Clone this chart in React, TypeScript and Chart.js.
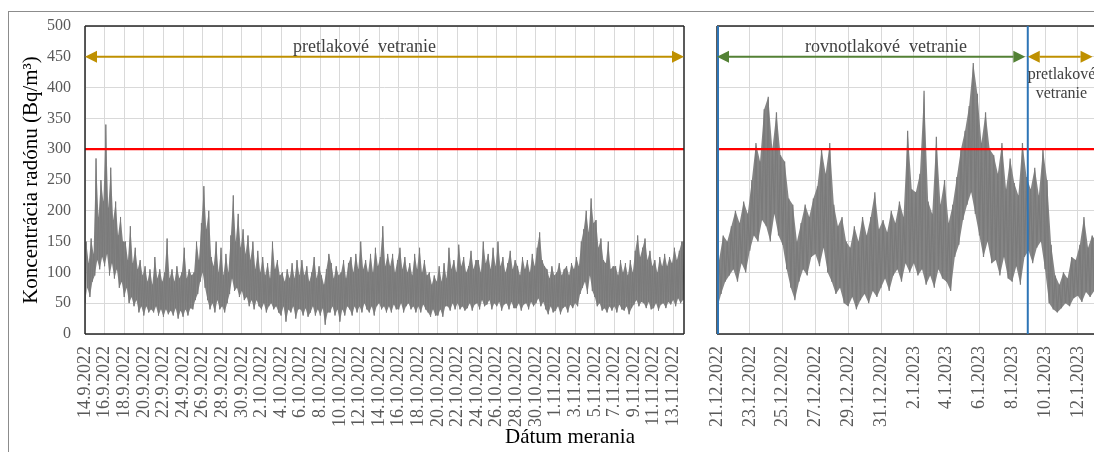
import React, { useEffect, useRef } from "react";
import { Chart, registerables } from "chart.js";

Chart.register(...registerables);

const SERIF = "'Liberation Serif', 'Times New Roman', serif";

// ---- tick labels ----
const leftTickLabels = [
  "14.9.2022", "16.9.2022", "18.9.2022", "20.9.2022", "22.9.2022", "24.9.2022", "26.9.2022",
  "28.9.2022", "30.9.2022", "2.10.2022", "4.10.2022", "6.10.2022", "8.10.2022", "10.10.2022",
  "12.10.2022", "14.10.2022", "16.10.2022", "18.10.2022", "20.10.2022", "22.10.2022",
  "24.10.2022", "26.10.2022", "28.10.2022", "30.10.2022", "1.11.2022", "3.11.2022",
  "5.11.2022", "7.11.2022", "9.11.2022", "11.11.2022", "13.11.2022",
];
const rightTickLabels = [
  "21.12.2022", "23.12.2022", "25.12.2022", "27.12.2022", "29.12.2022", "31.12.2022",
  "2.1.2023", "4.1.2023", "6.1.2023", "8.1.2023", "10.1.2023", "12.1.2023", "14.1.2023",
];
const yTickMax = 500;
const yTickStep = 50;
const limitValue = 300; // referenčná úroveň

// ---- measured radon concentration: low / high envelope every 6 h (4 per day) ----
const samplesPerDay = 4;

// 14.9.2022 – 14.11.2022
const leftLo = [
  50, 75, 60, 85, 95, 120, 105, 125, 110, 130, 95, 115, 90, 105, 75, 85,
  60, 75, 50, 60, 45, 55, 35, 45, 30, 45, 35, 40, 35, 45, 30, 40,
  28, 40, 32, 38, 30, 42, 25, 38, 28, 40, 30, 42, 40, 55, 65, 85,
  100, 75, 55, 40, 50, 35, 55, 40, 45, 35, 50, 65, 90, 70, 75, 60,
  70, 55, 60, 45, 55, 40, 55, 45, 40, 50, 35, 45, 50, 40, 45, 35,
  30, 45, 20, 40, 35, 45, 25, 40, 40, 30, 42, 28, 35, 45, 30, 40,
  30, 42, 15, 35, 35, 45, 30, 40, 20, 40, 30, 45, 40, 30, 45, 35,
  45, 35, 50, 40, 35, 45, 30, 45, 50, 40, 45, 35, 45, 35, 48, 40,
  40, 50, 35, 45, 50, 40, 45, 35, 45, 35, 48, 40, 35, 28, 40, 30,
  30, 40, 28, 45, 45, 38, 50, 40, 50, 40, 45, 38, 42, 50, 38, 48,
  50, 40, 55, 45, 48, 55, 40, 50, 45, 52, 38, 48, 50, 40, 52, 42,
  42, 50, 38, 48, 50, 40, 52, 45, 50, 58, 45, 52, 40, 32, 45, 35,
  38, 45, 32, 42, 45, 35, 48, 42, 50, 45, 65, 75, 85, 65, 95, 70,
  60, 45, 50, 38, 42, 35, 45, 38, 45, 35, 48, 40, 38, 45, 32, 42,
  48, 55, 45, 52, 50, 42, 52, 40, 42, 50, 38, 48, 50, 42, 52, 48,
  55, 45, 58, 50, 55,
];
const leftHi = [
  150, 115, 155, 130, 285, 190, 250, 215, 340, 205, 270, 185, 215, 160, 190, 150,
  150, 120, 175, 115, 140, 105, 120, 95, 110, 85, 105, 80, 125, 90, 105, 85,
  100, 155, 90, 105, 85, 110, 90, 100, 140, 90, 105, 95, 100, 150, 120, 180,
  240, 170, 200, 125, 110, 150, 100, 140, 95, 130, 100, 160, 225, 150, 195, 140,
  170, 130, 160, 120, 150, 105, 135, 100, 125, 95, 115, 90, 150, 105, 120, 95,
  100, 85, 105, 90, 115, 90, 120, 95, 120, 95, 110, 85, 100, 125, 90, 110,
  95, 80, 105, 130, 115, 90, 110, 95, 100, 120, 90, 115, 125, 100, 130, 105,
  150, 105, 120, 100, 130, 100, 140, 110, 125, 175, 110, 130, 110, 130, 100, 120,
  140, 105, 125, 100, 115, 95, 130, 105, 140, 100, 120, 95, 100, 80, 95, 85,
  110, 85, 115, 90, 140, 105, 120, 100, 145, 110, 125, 100, 110, 135, 105, 120,
  120, 100, 150, 115, 130, 105, 140, 110, 150, 110, 125, 100, 115, 135, 105, 120,
  110, 95, 125, 105, 120, 100, 130, 110, 140, 165, 120, 110, 105, 90, 110, 95,
  100, 115, 95, 105, 110, 95, 115, 105, 125, 110, 150, 170, 200, 165, 220, 180,
  185, 140, 155, 120, 115, 150, 105, 110, 110, 95, 120, 100, 115, 95, 120, 100,
  135, 160, 125, 140, 155, 120, 135, 110, 120, 100, 125, 110, 130, 110, 125, 115,
  140, 120, 135, 150, 150,
];

// 21.12.2022 – 15.1.2023
const rightLo = [
  40, 65, 85, 95, 105, 85, 115, 100, 135, 160, 150, 185, 175, 150, 195, 160,
  145, 105, 75, 55, 85, 105, 95, 125, 130, 110, 140, 100, 85, 65, 75, 50,
  45, 60, 40, 55, 65, 50, 70, 60, 75, 90, 70, 95, 105, 85, 115, 100,
  115, 95, 105, 80, 95, 75, 105, 90, 85, 70, 125, 145, 185, 210, 230, 195,
  160, 125, 150, 115, 120, 95, 125, 90, 85, 110, 80, 125, 135, 115, 140, 150,
  105, 50, 40, 35, 42, 50, 45, 58, 62, 52, 68, 60, 70, 58, 65, 55,
  62, 70, 58, 72, 70,
];
const rightHi = [
  120, 160, 150, 175, 200, 180, 215, 195, 250, 310, 280, 365, 385, 300, 360, 290,
  280, 220, 210, 150, 180, 210, 190, 220, 240, 300, 260, 310, 210, 175, 190, 150,
  140, 175, 150, 190, 160, 190, 230, 170, 185, 165, 200, 180, 215, 190, 330, 235,
  230, 260, 395, 215, 195, 320, 210, 250, 180, 210, 255, 300, 330, 370, 440, 390,
  310, 360, 300, 290, 260, 310, 235, 285, 245, 225, 310, 255, 235, 270, 225, 300,
  250, 145, 95, 80, 100, 90, 125, 120, 145, 190, 140, 160, 150, 130, 165, 145,
  145, 155, 130, 150, 150,
];

// ventilation regimes (days from panel start)
const leftRegime = { from: 0, to: 61.1, label: "pretlakové  vetranie" };
const rightRegimeA = { from: 0, to: 18.8, label: "rovnotlakové  vetranie" };
const rightRegimeB = { from: 18.95, to: 22.9, label1: "pretlakové", label2: "vetranie" };
const rightSwitchDays = [0, 18.95];

const leftRangeDays = 61.1;
const rightRangeDays = 25;

function zigzag(lo: number[], hi: number[]) {
  const pts: { x: number; y: number }[] = [];
  for (let i = 0; i < lo.length; i++) {
    const t = i / samplesPerDay;
    pts.push({ x: t, y: lo[i] });
    pts.push({ x: t + 0.5 / samplesPerDay, y: hi[i] });
  }
  return pts;
}
function series(vals: number[], shift: number) {
  return vals.map((v, i) => ({ x: i / samplesPerDay + shift / samplesPerDay, y: v }));
}

const annotPlugin = {
  id: "annot",
  afterDatasetsDraw(chart: any, _args: any, opts: any) {
    const { ctx, chartArea: a, scales } = chart;
    const x = scales.x;
    const y = scales.y;
    ctx.save();
    ctx.strokeStyle = "#262626";
    ctx.lineWidth = 1.5;
    ctx.beginPath();
    if (opts.frameSides.includes("t")) { ctx.moveTo(a.left, a.top); ctx.lineTo(a.right, a.top); }
    if (opts.frameSides.includes("b")) { ctx.moveTo(a.left, a.bottom); ctx.lineTo(a.right, a.bottom); }
    if (opts.frameSides.includes("l")) { ctx.moveTo(a.left, a.top); ctx.lineTo(a.left, a.bottom); }
    if (opts.frameSides.includes("r")) { ctx.moveTo(a.right, a.top); ctx.lineTo(a.right, a.bottom); }
    ctx.stroke();
    (opts.vlines || []).forEach((v: number) => {
      const px = Math.max(a.left + 1, x.getPixelForValue(v));
      ctx.strokeStyle = "#2e75b6";
      ctx.lineWidth = 2;
      ctx.beginPath();
      ctx.moveTo(px, a.top);
      ctx.lineTo(px, a.bottom);
      ctx.stroke();
    });
    (opts.arrows || []).forEach((ar: any) => {
      const x0 = x.getPixelForValue(ar.x0);
      const x1 = x.getPixelForValue(ar.x1);
      const py = y.getPixelForValue(ar.y);
      const L = 12, H = 6;
      ctx.strokeStyle = ar.color;
      ctx.fillStyle = ar.color;
      ctx.lineWidth = 2;
      ctx.beginPath();
      ctx.moveTo(x0 + L, py);
      ctx.lineTo(x1 - L, py);
      ctx.stroke();
      ctx.beginPath();
      ctx.moveTo(x0, py); ctx.lineTo(x0 + L, py - H); ctx.lineTo(x0 + L, py + H); ctx.closePath();
      ctx.fill();
      ctx.beginPath();
      ctx.moveTo(x1, py); ctx.lineTo(x1 - L, py - H); ctx.lineTo(x1 - L, py + H); ctx.closePath();
      ctx.fill();
    });
    (opts.texts || []).forEach((t: any) => {
      ctx.font = t.font;
      ctx.fillStyle = "#404040";
      ctx.textAlign = t.align || "center";
      ctx.textBaseline = "middle";
      ctx.fillText(t.text, x.getPixelForValue(t.x), y.getPixelForValue(t.y));
    });
    ctx.restore();
  },
};

function makeConfig(p: {
  lo: number[]; hi: number[]; labels: string[]; range: number; padRight: number;
  yWidth: number; showY: boolean; lineW: number; annot: any;
}) {
  return {
    type: "line" as const,
    data: {
      datasets: [
        {
          data: [{ x: 0, y: limitValue }, { x: p.range, y: limitValue }],
          borderColor: "#ff0000",
          borderWidth: 2.2,
          pointRadius: 0,
          fill: false,
          order: 0,
        },
        {
          data: zigzag(p.lo, p.hi),
          borderColor: "#7a7a7a",
          borderWidth: p.lineW,
          pointRadius: 0,
          tension: 0,
          fill: false,
          order: 1,
        },
        {
          data: series(p.hi, 0.5),
          borderColor: "rgba(0,0,0,0)",
          borderWidth: 0,
          backgroundColor: "#858585",
          pointRadius: 0,
          tension: 0,
          fill: "+1",
          order: 2,
        },
        {
          data: series(p.lo, 0),
          borderColor: "rgba(0,0,0,0)",
          borderWidth: 0,
          pointRadius: 0,
          tension: 0,
          fill: false,
          order: 3,
        },
      ],
    },
    plugins: [annotPlugin],
    options: {
      responsive: false,
      animation: false,
      devicePixelRatio: 1,
      events: [],
      layout: { padding: { top: 26, right: p.padRight, bottom: 0, left: 0 } },
      plugins: {
        legend: { display: false },
        tooltip: { enabled: false },
        filler: { propagate: false },
        annot: p.annot,
      },
      scales: {
        x: {
          type: "linear",
          min: 0,
          max: p.range,
          afterBuildTicks: (s: any) => {
            s.ticks = p.labels.map((_, i) => ({ value: i * 2 }));
          },
          afterFit: (s: any) => {
            s.height = 118;
            s.paddingRight = 0;
            s.paddingLeft = 0;
          },
          grid: { color: "#d9d9d9", lineWidth: 1, drawTicks: false },
          border: { display: false },
          ticks: {
            autoSkip: false,
            minRotation: 90,
            maxRotation: 90,
            padding: 12,
            color: "#595959",
            font: { family: SERIF, size: 18 },
            callback: (_v: any, i: number) => p.labels[i] ?? "",
          },
        },
        y: {
          min: 0,
          max: yTickMax,
          afterFit: (s: any) => {
            s.width = p.yWidth;
            s.paddingTop = 0;
            s.paddingBottom = 0;
          },
          grid: { color: "#d9d9d9", lineWidth: 1, drawTicks: false },
          border: { display: false },
          ticks: {
            display: p.showY,
            stepSize: yTickStep,
            padding: 14,
            color: "#595959",
            font: { family: SERIF, size: 16 },
          },
          title: {
            display: p.showY,
            text: "Koncentrácia radónu (Bq/m³)",
            color: "#000000",
            font: { family: SERIF, size: 21 },
            padding: { top: 19, bottom: 0 },
          },
        },
      },
    },
  };
}

export default function App() {
  const leftRef = useRef<HTMLCanvasElement>(null);
  const rightRef = useRef<HTMLCanvasElement>(null);

  useEffect(() => {
    const textFont = `18px ${SERIF}`;
    const smallFont = `16px ${SERIF}`;
    const left = new Chart(leftRef.current!, makeConfig({
      lo: leftLo, hi: leftHi, labels: leftTickLabels, range: leftRangeDays, padRight: 16,
      yWidth: 85, showY: true, lineW: 1,
      annot: {
        frameSides: "tblr",
        vlines: [],
        arrows: [{ x0: leftRegime.from, x1: leftRegime.to, y: 450, color: "#bf9000" }],
        texts: [{ x: 28.5, y: 466, text: leftRegime.label, font: textFont }],
      },
    }) as any);
    const right = new Chart(rightRef.current!, makeConfig({
      lo: rightLo, hi: rightHi, labels: rightTickLabels, range: rightRangeDays, padRight: 10,
      yWidth: 27, showY: false, lineW: 1.2,
      annot: {
        frameSides: "tbl",
        vlines: rightSwitchDays,
        arrows: [
          { x0: rightRegimeA.from, x1: rightRegimeA.to, y: 450, color: "#538135" },
          { x0: rightRegimeB.from, x1: rightRegimeB.to, y: 450, color: "#bf9000" },
        ],
        texts: [
          { x: 10.3, y: 466, text: rightRegimeA.label, font: textFont },
          { x: 18.95, y: 420, text: rightRegimeB.label1, font: smallFont, align: "left" },
          { x: 21.0, y: 390, text: rightRegimeB.label2, font: smallFont },
        ],
      },
    }) as any);
    return () => {
      left.destroy();
      right.destroy();
    };
  }, []);

  return (
    <div style={{ position: "fixed", left: 0, top: 0, width: 1094, height: 452, overflow: "hidden", background: "#fff" }}>
      <div style={{ position: "absolute", left: 8, top: 11, width: 1200, height: 600, borderTop: "1px solid #8c8c8c", borderLeft: "1px solid #8c8c8c" }} />
      <canvas ref={leftRef} width={700} height={452} style={{ position: "absolute", left: 0, top: 0, width: 700, height: 452 }} />
      <canvas ref={rightRef} width={447} height={452} style={{ position: "absolute", left: 690, top: 0, width: 447, height: 452 }} />
      <div style={{ position: "absolute", left: 470, top: 424, width: 200, textAlign: "center", fontFamily: SERIF, fontSize: 21, lineHeight: "24px", color: "#000" }}>
        Dátum merania
      </div>
    </div>
  );
}
